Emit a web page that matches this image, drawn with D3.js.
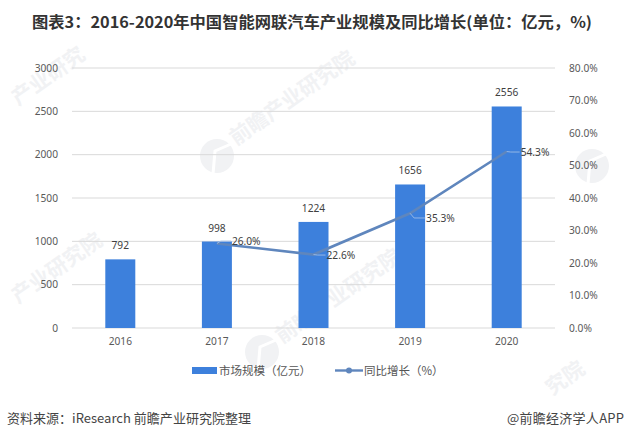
<!DOCTYPE html>
<html>
<head>
<meta charset="utf-8">
<title>图表3</title>
<script src="https://d3js.org/d3.v7.min.js"></script>
<style>
  html, body { margin: 0; padding: 0; background: #fff; }
  text { font-family: "Noto Sans CJK SC", sans-serif; }
  .num { font-family: "Noto Sans", sans-serif; font-size: 10.2px; fill: #404040; }
  .tick-label { font-family: "Noto Sans", sans-serif; font-size: 10.2px; fill: #595959; }
</style>
</head>
<body>
<script>
var years = ["2016", "2017", "2018", "2019", "2020"];
var marketSize = [792, 998, 1224, 1656, 2556];
var growthYears = ["2017", "2018", "2019", "2020"];
var growth = [26.0, 22.6, 35.3, 54.3];
var leftTicks = [0, 500, 1000, 1500, 2000, 2500, 3000];
var rightTicks = [0, 10, 20, 30, 40, 50, 60, 70, 80];

var titleText = "图表3：2016-2020年中国智能网联汽车产业规模及同比增长(单位：亿元，%)";
var sourceText = "资料来源：iResearch 前瞻产业研究院整理";
var creditText = "@前瞻经济学人APP";
var legendBar = "市场规模（亿元）";
var legendLine = "同比增长（%）";

var width = 625, height = 438;
var margin = {top: 68, right: 70, bottom: 110, left: 72};

var svg = d3.select("body").append("svg")
    .attr("width", width)
    .attr("height", height)
    .style("display", "block");

// watermarks, underneath everything. Text that runs off the page in the
// reference is shortened here to the part that stays on the page.
var wmColor = "#f1f2f4";
var wmTexts = [
  [18, 106, "产业研究"],
  [236, 146, "前瞻产业研究院"],
  [18, 304, "产业研究院"],
  [282, 344, "前瞻产业研究院"],
  [552, 396, "究院"]
];
wmTexts.forEach(function(m) {
  svg.append("text")
    .attr("transform", "translate(" + m[0] + "," + m[1] + ") rotate(-35)")
    .attr("font-size", 21)
    .attr("font-weight", 700)
    .attr("fill", wmColor)
    .text(m[2]);
});
[[217, 156], [262, 352], [592, 166]].forEach(function(c) {
  svg.append("circle")
    .attr("cx", c[0]).attr("cy", c[1]).attr("r", 17)
    .attr("fill", wmColor);
  svg.append("path")
    .attr("d", "M" + (c[0] - 4) + "," + (c[1] + 18) + "L" + (c[0] - 2) + "," + (c[1] - 5) + "L" + (c[0] + 14) + "," + (c[1] - 12))
    .attr("fill", "none")
    .attr("stroke", "#fff")
    .attr("stroke-width", 3);
});

var x = d3.scaleBand().domain(years).range([margin.left, width - margin.right]);
var y = d3.scaleLinear().domain([0, 3000]).range([height - margin.bottom, margin.top]);
var y2 = d3.scaleLinear().domain([0, 80]).range([height - margin.bottom, margin.top]);
var barW = 30;

// title
svg.append("text")
  .attr("x", 312).attr("y", 28)
  .attr("text-anchor", "middle")
  .attr("font-size", 15.4)
  .attr("font-weight", 700)
  .attr("fill", "#333")
  .attr("textLength", 560)
  .attr("lengthAdjust", "spacingAndGlyphs")
  .text(titleText);

// grid lines
svg.selectAll(".grid").data(leftTicks).enter().append("line")
  .attr("class", "grid")
  .attr("x1", margin.left).attr("x2", width - margin.right)
  .attr("y1", function(d) { return y(d); })
  .attr("y2", function(d) { return y(d); })
  .attr("stroke", "#d9d9d9")
  .attr("stroke-width", 1);

// left axis labels
var leftAxis = svg.append("g")
  .attr("transform", "translate(" + (margin.left - 11) + ",0)")
  .call(d3.axisLeft(y).tickValues(leftTicks).tickSize(0).tickFormat(d3.format("d")));
leftAxis.select(".domain").remove();
leftAxis.selectAll("text").attr("class", "tick-label");

// right axis labels
var rightAxis = svg.append("g")
  .attr("transform", "translate(" + (width - margin.right + 11) + ",0)")
  .call(d3.axisRight(y2).tickValues(rightTicks).tickSize(0).tickFormat(function(d) { return d.toFixed(1) + "%"; }));
rightAxis.select(".domain").remove();
rightAxis.selectAll("text").attr("class", "tick-label");

// x axis labels
var xAxis = svg.append("g")
  .attr("transform", "translate(0," + (y(0) + 7) + ")")
  .call(d3.axisBottom(x).tickSize(0));
xAxis.select(".domain").remove();
xAxis.selectAll("text").attr("class", "tick-label");

// bars
var mid = function(k) { return x(k) + x.bandwidth() / 2; };

svg.selectAll(".bar").data(marketSize).enter().append("rect")
  .attr("class", "bar")
  .attr("x", function(d, i) { return mid(years[i]) - barW / 2; })
  .attr("y", function(d) { return y(d); })
  .attr("width", barW)
  .attr("height", function(d) { return y(0) - y(d); })
  .attr("fill", "#3d80dc");

svg.selectAll(".barlabel").data(marketSize).enter().append("text")
  .attr("class", "num barlabel")
  .attr("x", function(d, i) { return mid(years[i]); })
  .attr("y", function(d) { return y(d) - 10; })
  .attr("text-anchor", "middle")
  .text(function(d) { return d; });

// growth line
var line = d3.line()
  .x(function(d, i) { return mid(growthYears[i]); })
  .y(function(d) { return y2(d); });

svg.append("path")
  .datum(growth)
  .attr("d", line)
  .attr("fill", "none")
  .attr("stroke", "#5f86bd")
  .attr("stroke-width", 2.6);

// the labels were dragged by hand in the original, each sits a bit differently
var labelDx = [15, 13, 16, 14];
var labelDy = [-2.5, 0.5, 4.7, 0.5];

svg.selectAll(".leader").data(growth).enter().append("path")
  .attr("class", "leader")
  .attr("d", function(d, i) {
    var px = mid(growthYears[i]), py = y2(d);
    return "M" + px + "," + py + "L" + (px + 4) + "," + (py + labelDy[i]) + "L" + (px + labelDx[i] - 1) + "," + (py + labelDy[i]);
  })
  .attr("fill", "none")
  .attr("stroke", "#a9c4e8")
  .attr("stroke-width", 0.8);

svg.selectAll(".linelabel").data(growth).enter().append("text")
  .attr("class", "num linelabel")
  .attr("x", function(d, i) { return mid(growthYears[i]) + labelDx[i]; })
  .attr("y", function(d, i) { return y2(d) + labelDy[i] + 3.7; })
  .text(function(d) { return d.toFixed(1) + "%"; });

// legend
svg.append("rect")
  .attr("x", 192).attr("y", 367).attr("width", 25).attr("height", 7)
  .attr("fill", "#3d80dc");
svg.append("text")
  .attr("x", 219).attr("y", 374.5)
  .attr("font-size", 11.5).attr("fill", "#555")
  .text(legendBar);
svg.append("line")
  .attr("x1", 335).attr("x2", 363).attr("y1", 370.5).attr("y2", 370.5)
  .attr("stroke", "#5f86bd").attr("stroke-width", 2.4);
svg.append("circle")
  .attr("cx", 349).attr("cy", 370.5).attr("r", 3)
  .attr("fill", "#5f86bd");
svg.append("text")
  .attr("x", 364).attr("y", 374.5)
  .attr("font-size", 11.5).attr("fill", "#555")
  .text(legendLine);

// footer
svg.append("text")
  .attr("x", 7).attr("y", 422.5)
  .attr("font-size", 13).attr("fill", "#444")
  .attr("textLength", 244)
  .text(sourceText);
svg.append("text")
  .attr("x", 507).attr("y", 422.5)
  .attr("font-size", 13).attr("fill", "#444")
  .attr("textLength", 117)
  .text(creditText);
</script>
</body>
</html>
